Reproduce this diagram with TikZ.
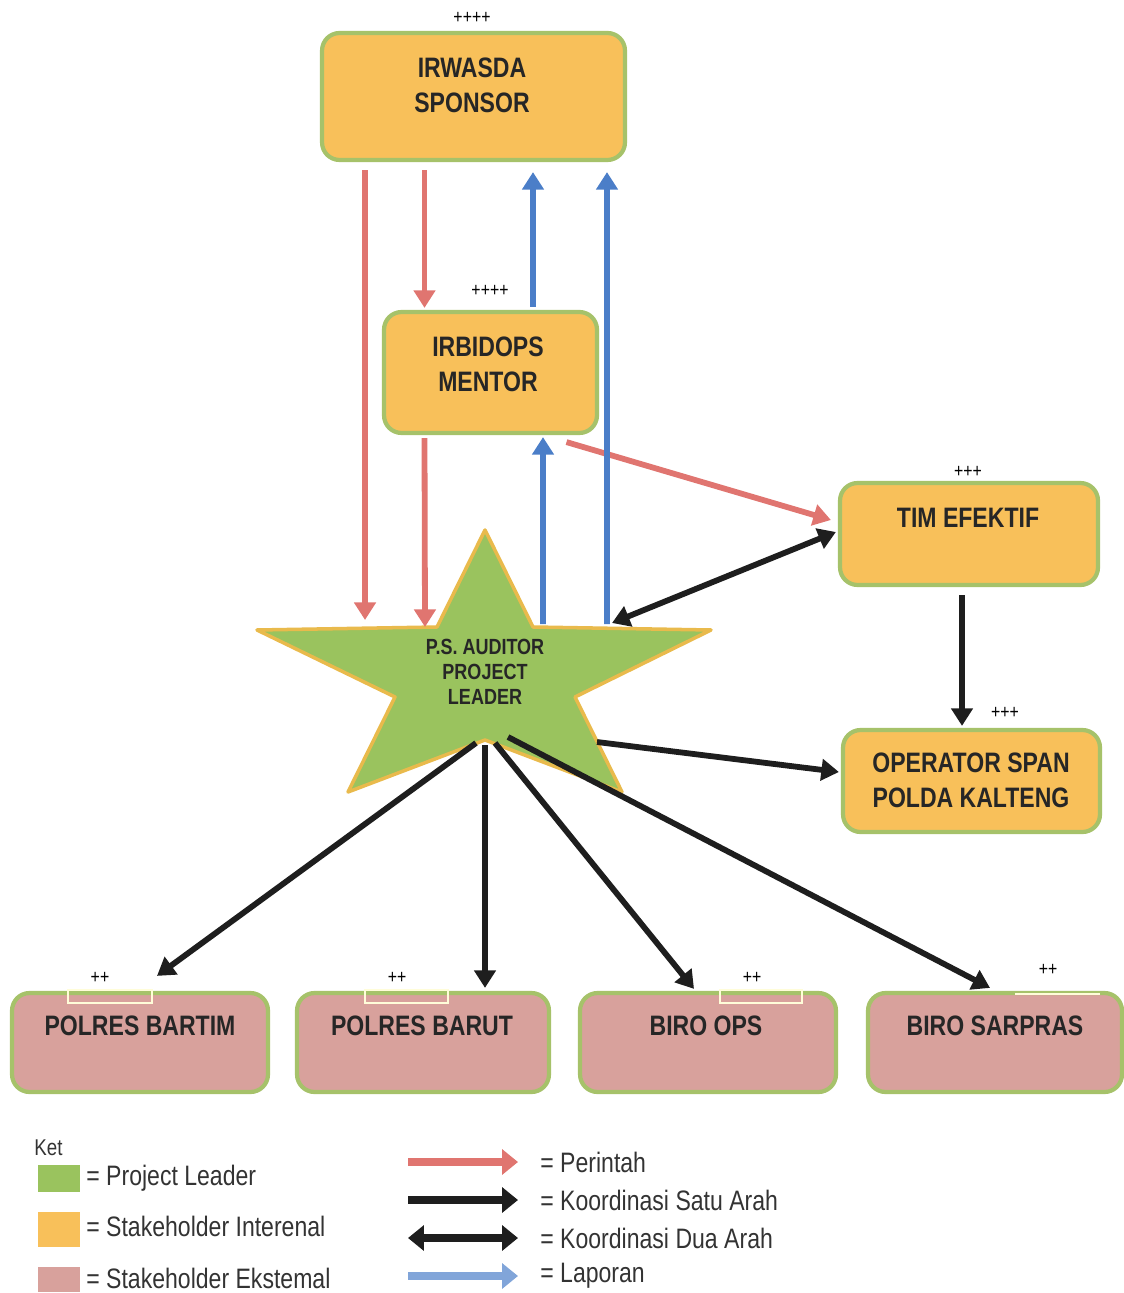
\documentclass[tikz,border=0pt]{standalone}
\usepackage{fontspec}
\setmainfont{Liberation Sans}[FakeStretch=0.82]
\usetikzlibrary{arrows.meta}
\usetikzlibrary{calc}

\definecolor{internal}{HTML}{F8C05A}
\definecolor{external}{HTML}{D8A19C}
\definecolor{boxline}{HTML}{A6C26A}
\definecolor{leadgreen}{HTML}{9AC35E}
\definecolor{leadline}{HTML}{E9BA4C}
\definecolor{perintahred}{HTML}{E07570}
\definecolor{laporanblue}{HTML}{4B7EC8}
\definecolor{koordblack}{HTML}{1E1E1E}

\tikzset{
  inbox/.style={draw=boxline, line width=2.4pt, fill=internal, rounded corners=10pt, inner sep=0pt},
  exbox/.style={inbox, fill=external},
  boxtext/.style={font=\bfseries\fontsize{16}{20}\selectfont, align=center, text=black!85},
  plus/.style={font=\fontsize{11}{12}\selectfont, inner sep=0pt},
  perintah/.style={draw=perintahred, line width=3.3pt, -{Triangle[length=10pt,width=12pt]}},
  laporan/.style={draw=laporanblue, line width=3.3pt, -{Triangle[length=10pt,width=12pt]}},
  satuarah/.style={draw=koordblack, line width=3.3pt, -{Triangle[length=10pt,width=12pt]}},
  duaarah/.style={draw=koordblack, line width=3.3pt, {Triangle[length=10pt,width=12pt]}-{Triangle[length=10pt,width=12pt]}},
  legtext/.style={font=\fontsize{16}{19}\selectfont, text=black!80, inner sep=0pt, anchor=west},
  swatch/.style={minimum width=0.84cm, inner sep=0pt},
}

\begin{document}
\begin{tikzpicture}[x=0.02cm, y=-0.02cm]
\useasboundingbox (0,0) rectangle (1124,1293);

% internal stakeholders
\node[inbox, minimum width=6.06cm, minimum height=2.54cm] (irwasda) at (473.5,96.5) {};
\node[boxtext] (irwasdatxt) at (472,85) {IRWASDA\\SPONSOR};
\node[plus] (irwasdaplus) at (472,18) {++++};

\node[inbox, minimum width=4.26cm, minimum height=2.42cm] (irbidops) at (490.5,372.5) {};
\node[boxtext] (irbidopstxt) at (488,364) {IRBIDOPS\\MENTOR};
\node[plus] (irbidopsplus) at (490,291) {++++};

\node[inbox, minimum width=5.16cm, minimum height=2.04cm] (timefektif) at (969,534) {};
\node[boxtext] (timefektiftxt) at (968,518) {TIM EFEKTIF};
\node[plus] (timefektifplus) at (968,472) {+++};

\node[inbox, minimum width=5.14cm, minimum height=2.04cm] (operator) at (971.5,781) {};
\node[boxtext] (operatortxt) at (971,780) {OPERATOR SPAN\\POLDA KALTENG};
\node[plus] (operatorplus) at (1005,713) {+++};

% external stakeholders
\node[exbox, minimum width=5.12cm, minimum height=1.98cm] (bartim) at (140,1042.5) {};
\node[exbox, minimum width=5.04cm, minimum height=1.98cm] (barut) at (423,1042.5) {};
\node[exbox, minimum width=5.12cm, minimum height=1.98cm] (biroops) at (708,1042.5) {};
\node[exbox, minimum width=5.08cm, minimum height=1.98cm] (sarpras) at (995,1042.5) {};
\draw[white!85!yellow, line width=1pt] (68,990) rectangle (152,1003);
\draw[white!85!yellow, line width=1pt] (365,990) rectangle (448,1003);
\draw[white!85!yellow, line width=1pt] (720,990) rectangle (802,1003);
\draw[white!85!yellow, line width=1.4pt] (1015,994) -- (1100,994);
\node[boxtext] (bartimtxt) at (140,1026) {POLRES BARTIM};
\node[boxtext] (baruttxt) at (422,1026) {POLRES BARUT};
\node[boxtext] (biroopstxt) at (706,1026) {BIRO OPS};
\node[boxtext] (sarprastxt) at (995,1026) {BIRO SARPRAS};
\node[plus] (bartimplus) at (100,978) {++};
\node[plus] (barutplus) at (397,978) {++};
\node[plus] (biroopsplus) at (752,978) {++};
\node[plus] (sarprasplus) at (1048,970) {++};

% project leader star
\draw[fill=leadgreen, draw=leadline, line width=2pt, line join=round]
  (485,530) -- (533,627) -- (711,630) -- (575,697) -- (622,792) -- (485,740)
  -- (348,792) -- (395,697) -- (257,630) -- (437,627) -- cycle;
\node[font=\bfseries\fontsize{12.5}{14.2}\selectfont, align=center, text=black!85] (leader) at (485,672) {P.S. AUDITOR\\PROJECT\\LEADER};

% perintah
\draw[perintah] ($(irwasda.south)+(-108.5,8)$) -- ($(leader.center)+(-120,-52)$);
\draw[perintah] ($(irwasda.south)+(-49,8)$) -- ($(irbidops.north)+(-66,-2)$);
\draw[perintah] ($(irbidops.south)+(-66,3)$) -- ($(leader.center)+(-60,-45)$);
\draw[perintah] ($(irbidops.south)+(76,7)$) -- ($(timefektif.west)+(-7,-14)$);

% laporan
\draw[laporan] ($(irbidops.north)+(42.5,-3)$) -- ($(irwasda.south)+(59.5,10)$);
\draw[laporan] ($(leader.center)+(58,-48)$) -- ($(irbidops.south)+(52.5,2)$);
\draw[laporan] ($(leader.center)+(122,-48)$) -- ($(irwasda.south)+(133.5,10)$);

% koordinasi
\draw[duaarah] ($(timefektif.west)+(-2,-2)$) -- ($(leader.center)+(127,-49)$);
\draw[satuarah] ($(timefektif.south)+(-7,8)$) -- ($(operator.north)+(-9.5,-2)$);
\draw[satuarah] ($(leader.center)+(112,70)$) -- ($(operator.west)+(-2,-9)$);
\draw[satuarah] ($(leader.center)+(-9,71)$) -- ($(bartim.north)+(17,-15)$);
\draw[satuarah] ($(leader.center)+(0,73)$) -- ($(barut.north)+(62,-3)$);
\draw[satuarah] ($(leader.center)+(10,71)$) -- ($(biroops.north)+(-14,-2)$);
\draw[satuarah] ($(leader.center)+(23,65)$) -- ($(sarpras.north)+(-5,-3)$);

% keterangan
\node[legtext, font=\fontsize{13}{15}\selectfont] (ket) at (34,1148) {Ket};
\node[swatch, fill=leadgreen, minimum height=0.54cm] (swleader) at (59,1178.5) {};
\node[swatch, fill=internal, minimum height=0.70cm] (swinternal) at (59,1229.5) {};
\node[swatch, fill=external, minimum height=0.50cm] (swexternal) at (59,1279.5) {};
\node[legtext] (lgleader) at (86,1178) {= Project Leader};
\node[legtext] (lginternal) at (86,1226) {= Stakeholder Interenal};
\node[legtext] (lgexternal) at (86,1278) {= Stakeholder Ekstemal};

\node[legtext] (lgperintah) at (540,1162) {= Perintah};
\node[legtext] (lgsatu) at (540,1200) {= Koordinasi Satu Arah};
\node[legtext] (lgdua) at (540,1238) {= Koordinasi Dua Arah};
\node[legtext] (lglaporan) at (540,1276) {= Laporan};
\coordinate (lgstart) at (408,0);
\draw[perintah, line width=4.5pt, -{Triangle[length=9pt,width=14pt]}] (lgstart |- lgperintah.west) -- ($(lgperintah.west)+(-22,0)$);
\draw[satuarah, line width=4.5pt, -{Triangle[length=9pt,width=14pt]}] (lgstart |- lgsatu.west) -- ($(lgsatu.west)+(-22,0)$);
\draw[duaarah, line width=4.5pt, {Triangle[length=9pt,width=14pt]}-{Triangle[length=9pt,width=14pt]}] (lgstart |- lgdua.west) -- ($(lgdua.west)+(-22,0)$);
\draw[laporan, draw=laporanblue!70, line width=4.5pt, -{Triangle[length=9pt,width=14pt]}] (lgstart |- lglaporan.west) -- ($(lglaporan.west)+(-22,0)$);
\end{tikzpicture}
\end{document}
